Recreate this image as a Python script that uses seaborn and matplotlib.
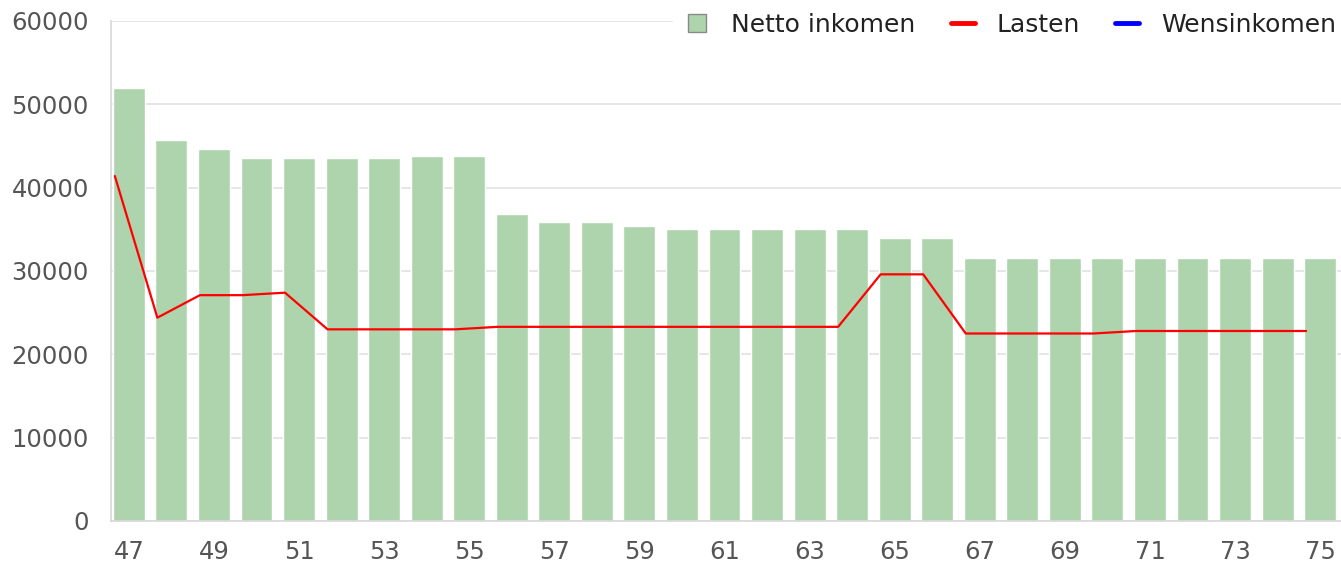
import numpy as np
import pandas as pd
import matplotlib
matplotlib.use('Agg')
import matplotlib.pyplot as plt
import seaborn as sns
from matplotlib.lines import Line2D

ages = list(range(47, 76))
netto_inkomen = [52000, 45700, 44600, 43600, 43600, 43600, 43600, 43800, 43800,
                 36800, 35900, 35900, 35400, 35100, 35100, 35100, 35100, 35100,
                 34000, 34000, 31600, 31600, 31600, 31600, 31600, 31600, 31600,
                 31600, 31600]
lasten = [41400, 24400, 27100, 27100, 27400, 23000, 23000, 23000, 23000,
          23300, 23300, 23300, 23300, 23300, 23300, 23300, 23300, 23300,
          29600, 29600, 22500, 22500, 22500, 22500, 22800, 22800, 22800,
          22800, 22800]
wensinkomen = []  # no values drawn in the reference

df = pd.DataFrame({'age': ages, 'netto': netto_inkomen, 'lasten': lasten})

sns.set_style('white')
plt.rcParams['font.family'] = ['DejaVu Sans']

fig = plt.figure(figsize=(13.41, 5.64), dpi=100)
ax = fig.add_axes([111 / 1341, 43 / 564, 1 - 111 / 1341, 500 / 564])

sns.barplot(data=df, x='age', y='netto', color='#aed4ae', saturation=1,
            width=0.75, ax=ax, zorder=2)
# line points sit at the left edge of each bar
pos = np.arange(len(ages)) - 0.33
sns.lineplot(x=pos, y=df['lasten'], color='#ff0000', linewidth=1.6, ax=ax, zorder=3)

ax.set_xlim(-0.42, 28.49)
ax.set_ylim(0, 60000)
ax.set_yticks(range(0, 60001, 10000))
ax.set_xticks(range(0, len(ages), 2))
ax.set_xticklabels([str(a) for a in ages[::2]])
ax.set_xlabel('')
ax.set_ylabel('')
ax.grid(axis='y', color='#e2e2e2', linewidth=1.2, zorder=0)
ax.set_axisbelow(True)
ax.tick_params(axis='both', length=0, labelsize=17.5, labelcolor='#555555')
ax.tick_params(axis='x', pad=14)
ax.tick_params(axis='y', pad=16)
for side in ['top', 'right']:
    ax.spines[side].set_visible(False)
for side in ['left', 'bottom']:
    ax.spines[side].set_color('#d8d8d8')
    ax.spines[side].set_linewidth(1.2)

handles = [
    Line2D([], [], marker='s', linestyle='none', markerfacecolor='#aed4ae',
           markeredgecolor='#8a8a8a', markersize=12.5),
    Line2D([], [], color='#ff0000', linewidth=3.5),
    Line2D([], [], color='#0000ff', linewidth=3.5),
]
leg = ax.legend(handles, ['Netto inkomen', 'Lasten', 'Wensinkomen'], ncol=3,
                loc='center right', bbox_to_anchor=(1.006, 0.993), fontsize=18,
                frameon=True, framealpha=1, edgecolor='white', fancybox=False,
                handlelength=0.96, handletextpad=0.88, columnspacing=1.4,
                borderpad=0.5, borderaxespad=0)
for t in leg.get_texts():
    t.set_color('#222222')

fig.savefig('out.png', dpi=100)
